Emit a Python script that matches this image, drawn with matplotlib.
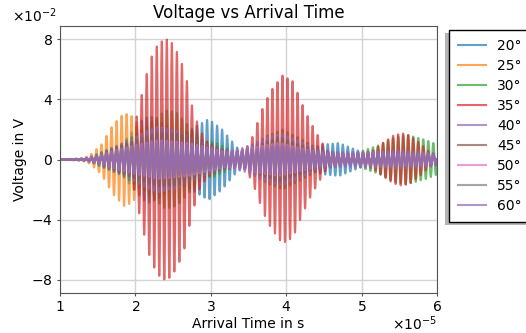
import numpy as np
import matplotlib
matplotlib.use("Agg")
import matplotlib.pyplot as plt
from matplotlib.patches import Rectangle
from matplotlib.transforms import IdentityTransform

# envelope knots: time in 1e-5 s, amplitude in 1e-2 V
labels = ["20°", "25°", "30°", "35°", "40°", "45°", "50°", "55°", "60°"]
colors = ["tab:blue", "tab:orange", "tab:green", "tab:red", "tab:purple",
          "tab:brown", "tab:pink", "tab:gray", "tab:purple"]

t_20 = [1.0, 1.45, 1.7, 1.9, 2.1, 2.2, 2.4, 2.6, 2.8, 2.97, 3.15, 3.35, 3.5, 3.8, 4.2, 4.5, 4.7, 4.9, 5.1, 5.4, 6.0]
a_20 = [0.0, 0.0, 0.3, 1.5, 2.7, 2.9, 2.3, 1.6, 2.2, 2.7, 2.0, 0.8, 0.4, 0.3, 0.6, 1.0, 1.1, 0.7, 0.3, 0.2, 0.1]

t_25 = [1.0, 1.25, 1.4, 1.55, 1.7, 1.85, 1.95, 2.1, 2.25, 2.4, 2.6, 3.0, 3.5, 4.0, 5.0, 6.0]
a_25 = [0.0, 0.0, 0.3, 1.0, 2.3, 3.1, 2.9, 2.0, 1.2, 0.6, 0.3, 0.2, 0.3, 0.4, 0.3, 0.2]

t_30 = [1.0, 1.35, 1.5, 1.8, 2.1, 2.4, 2.55, 2.75, 2.9, 3.05, 3.2, 3.35, 3.5, 3.75, 3.95, 4.15, 4.4, 4.6, 4.9, 5.2, 5.45, 5.6, 5.85, 6.0]
a_30 = [0.0, 0.0, 0.4, 1.0, 2.0, 3.3, 3.1, 2.0, 1.2, 1.15, 0.8, 0.4, 0.8, 1.6, 2.0, 1.5, 0.8, 0.5, 0.4, 0.9, 1.5, 1.65, 1.3, 1.0]

t_35 = [1.0, 1.85, 1.95, 2.0, 2.06, 2.13, 2.2, 2.3, 2.4, 2.48, 2.57, 2.66, 2.75, 2.85, 2.95, 3.1, 3.3, 3.42,
        3.55, 3.7, 3.8, 3.95, 4.09, 4.21, 4.31, 4.42, 4.54, 4.65, 4.9, 5.15, 5.28, 5.42, 5.54, 5.64, 5.77, 5.9, 6.0]
a_35 = [0.0, 0.0, 1.0, 2.5, 3.8, 5.3, 6.7, 7.7, 8.05, 7.8, 7.0, 5.8, 3.6, 2.0, 1.2, 0.8, 0.4, 0.3,
        1.5, 3.6, 4.6, 5.6, 5.2, 3.7, 2.6, 1.6, 0.6, 0.4, 0.3, 0.6, 1.1, 1.6, 1.75, 1.6, 1.1, 0.5, 0.3]

t_40 = [1.0, 1.3, 1.5, 1.7, 1.93, 2.15, 2.3, 2.5, 2.7, 3.0, 3.3, 3.5, 3.75, 3.95, 4.15, 4.4, 4.8, 5.2, 5.5, 6.0]
a_40 = [0.0, 0.05, 0.3, 0.8, 1.3, 1.9, 2.2, 2.0, 1.5, 0.9, 0.6, 0.9, 1.5, 1.7, 1.3, 0.7, 0.4, 0.5, 0.6, 0.4]

t_45 = [1.0, 1.4, 1.8, 2.3, 2.6, 3.0, 3.4, 3.9, 4.4, 5.0, 5.5, 6.0]
a_45 = [0.0, 0.1, 0.9, 1.8, 1.7, 0.8, 0.5, 1.5, 0.6, 0.3, 0.5, 0.3]

t_50 = [1.0, 1.4, 1.8, 2.3, 2.7, 3.2, 3.9, 4.5, 5.5, 6.0]
a_50 = [0.0, 0.1, 0.7, 1.3, 1.1, 0.5, 1.1, 0.4, 0.4, 0.3]

t_55 = [1.0, 1.4, 1.8, 2.3, 2.7, 3.2, 3.9, 4.5, 5.5, 6.0]
a_55 = [0.0, 0.1, 0.6, 1.1, 0.9, 0.4, 0.9, 0.4, 0.3, 0.3]

t_60 = [1.0, 1.3, 1.6, 2.0, 2.3, 2.7, 3.2, 3.9, 4.5, 5.5, 6.0]
a_60 = [0.0, 0.05, 0.4, 1.0, 1.3, 1.0, 0.5, 1.0, 0.5, 0.5, 0.4]

knots = [(t_20, a_20), (t_25, a_25), (t_30, a_30), (t_35, a_35), (t_40, a_40),
         (t_45, a_45), (t_50, a_50), (t_55, a_55), (t_60, a_60)]

CARRIER_HZ = 1.5e6

time = np.linspace(1e-5, 6e-5, 6000)

fig = plt.figure(figsize=(5.26, 3.33), dpi=100)
ax = fig.add_axes([0.114, 0.12, 0.717, 0.802])

for (tk, ak), lab, col in zip(knots, labels, colors):
    env = np.interp(time, np.array(tk) * 1e-5, np.array(ak) * 1e-2)
    volt = env * np.sin(2 * np.pi * CARRIER_HZ * time)
    ax.plot(time, volt, color=col, alpha=0.7, lw=1.5, label=lab)

ax.set_xlim(1e-5, 6e-5)
ax.set_ylim(-0.089, 0.089)
ax.set_yticks([-0.08, -0.04, 0, 0.04, 0.08])
ax.ticklabel_format(style="sci", axis="both", scilimits=(0, 0), useMathText=True)
ax.yaxis.get_offset_text().set_horizontalalignment("right")
ax.yaxis.get_offset_text().set_x(-0.008)
ax.xaxis.OFFSETTEXTPAD = 0
ax.tick_params(length=2.5, pad=2.5, color="#555555")
ax.grid(True, color="#d4d4d4", lw=1.0)
ax.set_axisbelow(True)
for s in ax.spines.values():
    s.set_color("#555555")
ax.set_title("Voltage vs Arrival Time", fontsize=12)
ax.set_xlabel("Arrival Time in s", labelpad=2)
ax.set_ylabel("Voltage in V", labelpad=3)
leg = ax.legend(loc="upper left", bbox_to_anchor=(1.032, 0.985), borderaxespad=0,
                fancybox=False, shadow=False, edgecolor="black", framealpha=1,
                borderpad=0.65, labelspacing=0.43)
leg.set_zorder(5)

# legend shadow sits down and to the left in the reference
fig.canvas.draw()
bb = leg.get_window_extent()
fig.add_artist(Rectangle((bb.x0 - 4, bb.y0 - 3), bb.width, bb.height,
                         transform=IdentityTransform(), facecolor="#b4b4b4",
                         edgecolor="none", zorder=-1))

fig.savefig("out.png", dpi=100)
